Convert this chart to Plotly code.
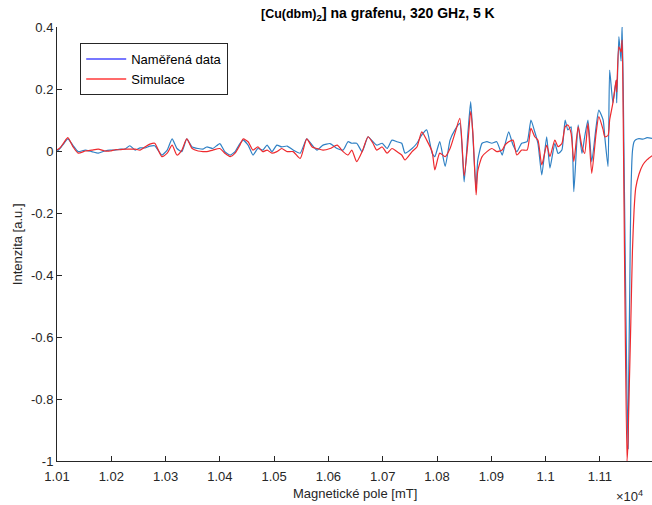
import plotly.graph_objects as go

# Magnetic field [mT]
field = [10100, 10106, 10113, 10120, 10129, 10139, 10152, 10164, 10176, 10188,
         10198, 10207, 10216, 10225, 10234, 10244, 10253, 10262, 10271, 10280,
         10293, 10303, 10312, 10321, 10330, 10339, 10349, 10360, 10369, 10376,
         10387, 10400, 10409, 10419, 10428, 10437, 10443, 10452, 10461, 10470,
         10479, 10487, 10496, 10505, 10514, 10524, 10535, 10548, 10560, 10570,
         10579, 10590, 10603, 10616, 10627, 10636, 10643, 10652, 10662, 10673,
         10682, 10689, 10699, 10708, 10717, 10726, 10735, 10741, 10754, 10763,
         10772, 10781, 10791, 10796, 10805, 10815, 10824, 10833, 10842, 10850,
         10857, 10862, 10866, 10872, 10875, 10883, 10892, 10901, 10910, 10920,
         10925, 10932, 10940, 10947, 10956, 10966, 10973, 10980, 10986, 10993,
         11002, 11008, 11017, 11023, 11030, 11036, 11041, 11047, 11052, 11060,
         11067, 11072, 11078, 11085, 11093, 11098, 11106, 11109, 11115, 11118,
         11124, 11130, 11131, 11135, 11139, 11141, 11143, 11146, 11150, 11152,
         11153, 11155, 11157, 11160, 11163, 11166, 11172, 11179, 11187, 11196]

measured = [-0.002, 0.009, 0.025, 0.039, 0.019, -0.002, 0.003, -0.002, -0.007, 0.0,
            0.003, 0.003, 0.006, 0.006, 0.017, 0.003, 0.010, 0.010, 0.016, 0.017,
            -0.013, 0.003, 0.039, 0.008, -0.002, 0.039, 0.013, 0.008, 0.006, 0.013,
            0.008, 0.024, -0.002, -0.013, -0.002, 0.024, 0.035, 0.019, -0.013, 0.008,
            0.003, 0.019, -0.002, 0.019, 0.013, 0.016, 0.003, -0.007, 0.039, 0.019,
            0.003, 0.019, 0.024, 0.008, 0.003, 0.030, 0.025, 0.025, -0.002, 0.046,
            0.030, 0.019, 0.025, 0.008, 0.035, 0.030, 0.025, -0.007, 0.008, 0.025,
            0.052, 0.068, -0.007, -0.018, 0.030, -0.050, 0.035, 0.068, 0.089, -0.100,
            0.060, 0.159, 0.050, -0.127, -0.030, 0.025, 0.030, 0.025, 0.030, -0.013,
            0.019, 0.062, 0.019, -0.002, 0.025, 0.030, 0.100, 0.062, 0.024, -0.077,
            0.046, -0.055, 0.025, -0.008, 0.003, 0.100, 0.068, 0.078, -0.131, 0.084,
            -0.008, 0.046, 0.100, -0.035, 0.078, 0.132, 0.100, 0.046, -0.050, 0.261,
            0.155, 0.229, 0.155, 0.369, 0.290, 0.406, 0.200, -0.250, -0.800, -0.960,
            -0.750, -0.450, -0.150, 0.000, 0.030, 0.036, 0.040, 0.038, 0.043, 0.041]

simulation = [0.003, 0.011, 0.028, 0.043, 0.015, -0.007, 0.0, 0.003, 0.006, 0.0,
              0.0, 0.004, 0.004, 0.006, 0.006, 0.006, 0.003, 0.013, 0.022, 0.025,
              -0.018, -0.007, 0.019, -0.013, 0.003, 0.039, 0.008, 0.0, -0.002, -0.002,
              0.003, 0.008, -0.007, -0.018, -0.007, 0.019, 0.039, 0.030, 0.003, 0.013,
              -0.002, 0.003, -0.007, -0.002, 0.008, -0.002, -0.002, -0.024, 0.039, 0.013,
              0.008, 0.003, 0.008, 0.019, -0.002, -0.013, 0.003, -0.034, -0.002, 0.046,
              0.025, 0.003, 0.013, -0.007, 0.008, -0.002, -0.013, -0.029, -0.002, 0.013,
              0.062, 0.035, -0.002, -0.061, -0.007, -0.018, 0.008, 0.057, 0.105, -0.080,
              0.030, 0.127, 0.060, -0.142, -0.065, -0.018, -0.002, 0.008, -0.002, 0.003,
              0.019, 0.030, 0.035, -0.013, 0.003, 0.003, 0.073, 0.046, 0.035, -0.045,
              0.019, -0.018, 0.035, 0.014, 0.024, 0.078, 0.084, 0.057, -0.034, 0.078,
              0.014, -0.008, 0.089, -0.072, 0.057, 0.111, 0.068, 0.046, 0.050, 0.100,
              0.155, 0.229, 0.190, 0.336, 0.320, 0.358, 0.100, -0.450, -1.000, -0.930,
              -0.840, -0.700, -0.550, -0.320, -0.190, -0.120, -0.075, -0.045, -0.028, -0.015]

x_tickvals = [10100, 10200, 10300, 10400, 10500, 10600, 10700, 10800, 10900, 11000, 11100]
x_ticktext = ["1.01", "1.02", "1.03", "1.04", "1.05", "1.06", "1.07", "1.08", "1.09", "1.1", "1.11"]
y_tickvals = [0.4, 0.2, 0, -0.2, -0.4, -0.6, -0.8, -1]
y_ticktext = ["0.4", "0.2", "0", "-0.2", "-0.4", "-0.6", "-0.8", "-1"]

FONT = "Liberation Sans, Arial, sans-serif"
TXT = "#262626"

fig = go.Figure()
fig.add_trace(go.Scatter(x=field, y=measured, mode="lines",
                         line=dict(color="#2f80c4", width=1.2, shape="spline", smoothing=0.5),
                         showlegend=False))
fig.add_trace(go.Scatter(x=field, y=simulation, mode="lines",
                         line=dict(color="#ee2a2e", width=1.2, shape="spline", smoothing=0.6),
                         showlegend=False))
# legend entries
fig.add_trace(go.Scatter(x=[None], y=[None], mode="lines", name="Naměřená data",
                         line=dict(color="#4a4aff", width=1.5)))
fig.add_trace(go.Scatter(x=[None], y=[None], mode="lines", name="Simulace",
                         line=dict(color="#ff3a3a", width=1.5)))

fig.update_layout(
    width=652, height=505,
    margin=dict(l=57, r=0, t=27, b=44),
    paper_bgcolor="white", plot_bgcolor="white",
    font=dict(family=FONT, size=13, color=TXT),
    showlegend=True,
    legend=dict(x=0.039, y=0.963, xanchor="left", yanchor="top",
                bgcolor="white", bordercolor=TXT, borderwidth=1,
                font=dict(size=13, color="#000000"), tracegroupgap=0,
                itemwidth=40),
    xaxis=dict(range=[10100, 11196], tickvals=x_tickvals, ticktext=x_ticktext,
               ticks="inside", ticklen=5, tickcolor=TXT, showline=True,
               linecolor=TXT, linewidth=1, showgrid=False, zeroline=False,
               tickfont=dict(size=13, color=TXT), ticklabelstandoff=3),
    yaxis=dict(range=[-1, 0.4], tickvals=y_tickvals, ticktext=y_ticktext,
               ticks="inside", ticklen=5, tickcolor=TXT, showline=True,
               linecolor=TXT, linewidth=1, showgrid=False, zeroline=False,
               tickfont=dict(size=13, color=TXT)),
    annotations=[
        dict(text="<b><span style='font-size:12.5px'>[Cu(dbm)</span><sub>2</sub>] na grafenu, 320 GHz, 5 K</b>",
             xref="paper", yref="paper", x=0.54, y=1.03, xanchor="center",
             yanchor="middle", showarrow=False, font=dict(size=14, color="#000000")),
        dict(text="Magnetické pole [mT]", xref="paper", yref="paper",
             x=0.5, y=-0.074, xanchor="center", yanchor="middle",
             showarrow=False, font=dict(size=13, color=TXT)),
        dict(text="Intenzita [a.u.]", xref="paper", yref="paper",
             x=-0.067, y=0.5, xanchor="center", yanchor="middle", textangle=-90,
             showarrow=False, font=dict(size=13, color=TXT)),
        dict(text="×10<sup>4</sup>", xref="paper", yref="paper",
             x=0.962, y=-0.08, xanchor="center", yanchor="middle",
             showarrow=False, font=dict(size=13, color=TXT)),
    ],
)

fig.write_html("out.html", config={"displayModeBar": False},
               post_script="document.body.style.margin='0px';document.body.style.overflow='hidden';")
